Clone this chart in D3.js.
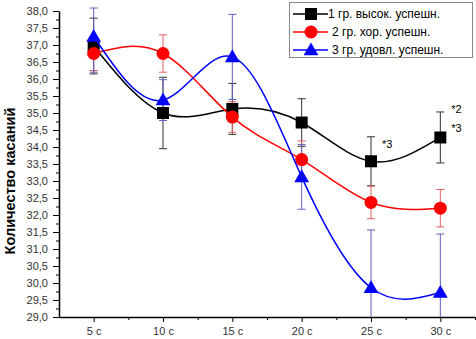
<!DOCTYPE html>
<html lang="ru">
<head>
<meta charset="UTF-8"/>
<title>Количество касаний</title>
<script src="https://d3js.org/d3.v7.min.js"></script>
<style>
	body { margin: 0; background: #fff; }
	text { font-family: "Liberation Sans", Arial, sans-serif; }
</style>
</head>
<body>
<div id="chart"></div>
<script>
	// data
	var seconds = [5, 10, 15, 20, 25, 30];
	var tickLabels = ["5 с", "10 с", "15 с", "20 с", "25 с", "30 с"];
	var seriesNames = ["1 гр. высок. успешн.", "2 гр. хор. успешн.", "3 гр. удовл. успешн."];
	var group1 = [36.97, 35.0, 35.12, 34.72, 33.58, 34.28];
	var group2 = [36.75, 36.75, 34.88, 33.63, 32.37, 32.2];
	var group3 = [37.25, 35.38, 36.65, 33.12, 29.86, 29.72];
	var err1 = [0.82, 1.05, 0.75, 0.7, 0.72, 0.75];
	var err2 = [0.5, 0.55, 0.45, 0.55, 0.48, 0.55];
	var err3 = [1.05, 0.6, 1.25, 0.95, 1.7, 1.72];
	var notes = [["*2", 30, 35.0], ["*3", 30, 34.45], ["*3", 25, 33.97]];

	var w = 476, h = 339;
	var colors = ["#000000", "#ff0000", "#0000ff"];
	var errColors = ["#333333", "#e06060", "#6060c0"];

	var x = d3.scaleLinear().domain([2.5, 32.5]).range([59, 475]);
	var y = d3.scaleLinear().domain([29, 38]).range([317, 11]);

	var svg = d3.select("#chart").append("svg")
		.attr("width", w)
		.attr("height", h);

	// y axis: labelled every 0.5, minor ticks in between
	var yMajor = d3.range(29, 38.01, 0.5);
	var yMinor = d3.range(29.25, 38, 0.5);
	var yAxis = svg.append("g")
		.attr("transform", "translate(59,0)")
		.call(d3.axisLeft(y).tickValues(yMajor).tickSize(6).tickSizeOuter(0)
			.tickFormat(function(d) { return d.toFixed(1).replace(".", ","); }));
	yAxis.selectAll("text").attr("font-size", "11px").attr("fill", "#333").attr("dx", "-2px");
	svg.append("g")
		.attr("transform", "translate(59,0)")
		.call(d3.axisLeft(y).tickValues(yMinor).tickSize(3).tickFormat(""))
		.select(".domain").remove();

	// x axis
	var xAxis = svg.append("g")
		.attr("transform", "translate(0,317)")
		.call(d3.axisBottom(x).tickValues(seconds).tickSize(5).tickSizeOuter(0)
			.tickFormat(function(d, i) { return tickLabels[i]; }));
	xAxis.selectAll("text").attr("font-size", "11px").attr("fill", "#333").attr("dy", "0.9em");
	svg.append("g")
		.attr("transform", "translate(0,317)")
		.call(d3.axisBottom(x).tickValues([7.5, 12.5, 17.5, 22.5, 27.5, 32.5]).tickSize(3).tickFormat(""))
		.select(".domain").remove();
	svg.selectAll(".domain").attr("stroke-width", 1.5);

	// y label
	svg.append("text")
		.attr("transform", "translate(15,181) rotate(-90)")
		.attr("text-anchor", "middle")
		.attr("font-size", "14.5px")
		.attr("font-weight", "bold")
		.text("Количество касаний");

	var groups = [group1, group2, group3];
	var errs = [err1, err2, err3];

	var plot = svg.append("g");
	var line = d3.line()
		.x(function(d, i) { return x(seconds[i]); })
		.y(function(d) { return y(d); })
		.curve(d3.curveNatural);

	// error bars first
	groups.forEach(function(g, k) {
		var e = plot.append("g").attr("stroke", errColors[k]).attr("stroke-width", 1);
		g.forEach(function(v, i) {
			var cx = x(seconds[i]);
			var top = Math.max(y(v + errs[k][i]), 8), bot = Math.min(y(v - errs[k][i]), 317);
			e.append("line").attr("x1", cx).attr("x2", cx).attr("y1", top).attr("y2", bot);
			e.append("line").attr("x1", cx - 4).attr("x2", cx + 4).attr("y1", top).attr("y2", top);
			if (bot < 317) e.append("line").attr("x1", cx - 4).attr("x2", cx + 4).attr("y1", bot).attr("y2", bot);
		});
	});

	// lines and markers
	var tri = d3.symbol().type(d3.symbolTriangle).size(95);
	groups.forEach(function(g, k) {
		plot.append("path")
			.datum(g)
			.attr("d", line)
			.attr("fill", "none")
			.attr("stroke", colors[k])
			.attr("stroke-width", 1.5);
		var m = plot.append("g").attr("fill", colors[k]);
		g.forEach(function(v, i) {
			var cx = x(seconds[i]), cy = y(v);
			if (k == 0) m.append("rect").attr("x", cx - 6).attr("y", cy - 6).attr("width", 12).attr("height", 12);
			else if (k == 1) m.append("circle").attr("cx", cx).attr("cy", cy).attr("r", 6.5);
			else m.append("path").attr("d", tri).attr("transform", "translate(" + cx + "," + (cy + 1) + ")");
		});
	});

	// significance notes
	svg.selectAll(".note")
		.data(notes)
		.enter()
		.append("text")
		.attr("x", function(d) { return x(d[1]) + 11; })
		.attr("y", function(d) { return y(d[2]); })
		.attr("font-size", "11px")
		.text(function(d) { return d[0]; });

	// legend
	var lg = svg.append("g");
	lg.append("rect")
		.attr("x", 289.5).attr("y", 2.5).attr("width", 183).attr("height", 55)
		.attr("fill", "#fff").attr("stroke", "#888");
	seriesNames.forEach(function(name, k) {
		var ly = 14 + k * 18;
		lg.append("line").attr("x1", 293).attr("x2", 328).attr("y1", ly).attr("y2", ly)
			.attr("stroke", colors[k]).attr("stroke-width", 1.5);
		if (k == 0) lg.append("rect").attr("x", 305).attr("y", ly - 6).attr("width", 12).attr("height", 12);
		else if (k == 1) lg.append("circle").attr("cx", 311).attr("cy", ly).attr("r", 6.5).attr("fill", colors[k]);
		else lg.append("path").attr("d", tri).attr("fill", colors[k]).attr("transform", "translate(311," + (ly + 1) + ")");
		lg.append("text").attr("x", k == 0 ? 328 : 332).attr("y", ly + 4)
			.attr("font-size", "12px").text(name);
	});
</script>
</body>
</html>
